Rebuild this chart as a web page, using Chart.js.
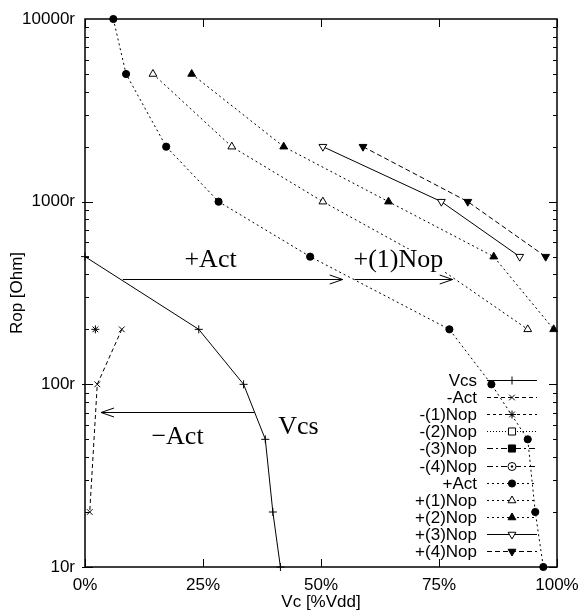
<!DOCTYPE html>
<html><head><meta charset="utf-8">
<script src="https://cdn.jsdelivr.net/npm/chart.js@4"></script>
<style>html,body{margin:0;padding:0;background:#fff}#wrap{width:579px;height:611px;position:relative}</style>
</head><body><div id="wrap"><canvas id="c" width="579" height="611"></canvas></div>
<script>
// ---- data ----
const seriesNames = ['Vcs','-Act','-(1)Nop','-(2)Nop','-(3)Nop','-(4)Nop','+Act','+(1)Nop','+(2)Nop','+(3)Nop','+(4)Nop'];
const vcsX = [0, 24.1, 33.6, 38.2, 39.8, 41.4];
const vcsY = [500, 200, 100, 50, 20, 10];
const actMinusX = [7.8, 2.6, 1.0];
const actMinusY = [200, 100, 20];
const nop1MinusX = [2.2];
const nop1MinusY = [200];
const nop2MinusX = [];
const nop2MinusY = [];
const nop3MinusX = [];
const nop3MinusY = [];
const nop4MinusX = [];
const nop4MinusY = [];
const actPlusX = [6.0, 8.7, 17.2, 28.3, 47.7, 77.2, 86.1, 93.8, 95.4, 97.1];
const actPlusY = [10000, 5000, 2000, 1000, 500, 200, 100, 50, 20, 10];
const nop1PlusX = [14.4, 31.1, 50.4, 71.5, 93.8];
const nop1PlusY = [5000, 2000, 1000, 500, 200];
const nop2PlusX = [22.6, 42.1, 64.3, 86.6, 99.3];
const nop2PlusY = [5000, 2000, 1000, 500, 200];
const nop3PlusX = [50.4, 75.5, 92.1];
const nop3PlusY = [2000, 1000, 500];
const nop4PlusX = [58.9, 81.1, 97.6];
const nop4PlusY = [2000, 1000, 500];
const xTickValues = [0, 25, 50, 75, 100];
const xTickLabels = ['0%', '25%', '50%', '75%', '100%'];
const yTickValues = [10, 100, 1000, 10000];
const yTickLabels = ['10r', '100r', '1000r', '10000r'];
const xTitle = 'Vc [%Vdd]';
const yTitle = 'Rop [Ohm]';
// annotations: arrows and labels in data coordinates
const arrowList = [
  {x1: 8.0, x2: 54.6, y: 377},
  {x1: 57.1, x2: 77.9, y: 377},
  {x1: 35.9, x2: 3.4, y: 71}
];
const labelList = [
  {text: '+Act', x: 26.6, y: 438},
  {text: '+(1)Nop', x: 66.4, y: 438},
  {text: '\u2212Act', x: 19.6, y: 47.3},
  {text: 'Vcs', x: 45.2, y: 53.6}
];

// ---- styles ----
const xs = [vcsX, actMinusX, nop1MinusX, nop2MinusX, nop3MinusX, nop4MinusX, actPlusX, nop1PlusX, nop2PlusX, nop3PlusX, nop4PlusX];
const ys = [vcsY, actMinusY, nop1MinusY, nop2MinusY, nop3MinusY, nop4MinusY, actPlusY, nop1PlusY, nop2PlusY, nop3PlusY, nop4PlusY];
const styles = [
  {dash: [], pt: 'cross', r: 4, fill: false, rot: 0},
  {dash: [4,3], pt: 'crossRot', r: 4, fill: false, rot: 0},
  {dash: [3,3], pt: 'star', r: 4, fill: false, rot: 0},
  {dash: [1,2], pt: 'rect', r: 5, fill: false, rot: 0},
  {dash: [6,3,2,3], pt: 'rect', r: 5, fill: true, rot: 0},
  {dash: [6,3,2,3], pt: 'circle', r: 4, fill: false, rot: 0, dot: true},
  {dash: [2,3], pt: 'circle', r: 3.6, fill: true, rot: 0},
  {dash: [2,3], pt: 'triangle', r: 4.5, fill: false, rot: 0},
  {dash: [2,3], pt: 'triangle', r: 4.5, fill: true, rot: 0},
  {dash: [], pt: 'triangle', r: 4.5, fill: false, rot: 180},
  {dash: [5,3], pt: 'triangle', r: 4.5, fill: true, rot: 180}
];

const datasets = seriesNames.map((name, i) => ({
  label: name,
  data: xs[i].map((x, j) => ({x: x, y: ys[i][j]})),
  showLine: true,
  borderColor: '#000',
  borderWidth: 1,
  borderDash: styles[i].dash,
  pointStyle: styles[i].pt,
  pointRadius: styles[i].r,
  pointRotation: styles[i].rot,
  pointBorderColor: '#000',
  pointBorderWidth: 1,
  pointBackgroundColor: styles[i].fill ? '#000' : '#fff',
  tension: 0,
  clip: false
}));

const SANS = '"Liberation Sans", Arial, sans-serif';
const SERIF = '"Liberation Serif", "Times New Roman", serif';

function seg(ctx, x1, y1, x2, y2) { ctx.beginPath(); ctx.moveTo(x1, y1); ctx.lineTo(x2, y2); ctx.stroke(); }

const decor = {
  id: 'decor',
  afterDatasetsDraw(chart) {
    const {ctx, chartArea: a, scales: {x, y}} = chart;
    ctx.save();
    ctx.strokeStyle = '#000';
    ctx.setLineDash([]);
    // tick marks (inward)
    ctx.lineWidth = 1;
    for (let d = 10; d < 10000; d *= 10) {
      for (let k = 1; k < 10; k++) {
        const py = Math.round(y.getPixelForValue(d * k)) + 0.5;
        const major = k === 1;
        const L = major ? 8 : 4;
        seg(ctx, a.left - (major ? 3 : 0), py, a.left + L, py);
        seg(ctx, a.right - L, py, a.right, py);
      }
    }
    xTickValues.forEach(v => {
      const px = Math.round(x.getPixelForValue(v)) + 0.5;
      seg(ctx, px, a.bottom, px, a.bottom - 8);
      seg(ctx, px, a.top, px, a.top + 8);
    });
    // frame
    ctx.lineWidth = 1.5;
    ctx.strokeRect(a.left, a.top, a.right - a.left, a.bottom - a.top);
    // arrows
    ctx.lineWidth = 1;
    arrowList.forEach(ar => {
      const x1 = x.getPixelForValue(ar.x1), x2 = x.getPixelForValue(ar.x2);
      const py = Math.round(y.getPixelForValue(ar.y)) + 0.5;
      seg(ctx, x1, py, x2, py);
      const dir = x2 > x1 ? 1 : -1;
      ctx.beginPath();
      ctx.moveTo(x2 - dir * 13, py - 4.5);
      ctx.lineTo(x2, py);
      ctx.lineTo(x2 - dir * 13, py + 4.5);
      ctx.stroke();
    });
    // labels (opaque)
    ctx.font = '26px ' + SERIF;
    ctx.textAlign = 'center';
    ctx.textBaseline = 'alphabetic';
    labelList.forEach(lb => {
      const px = x.getPixelForValue(lb.x), py = y.getPixelForValue(lb.y);
      const m = ctx.measureText(lb.text);
      ctx.fillStyle = '#fff';
      ctx.fillRect(px - m.width / 2, py - m.actualBoundingBoxAscent, m.width, m.actualBoundingBoxAscent + m.actualBoundingBoxDescent);
      ctx.fillStyle = '#000';
      ctx.fillText(lb.text, px, py);
    });
    // axis titles
    ctx.font = '17px ' + SANS;
    ctx.fillStyle = '#000';
    ctx.textBaseline = 'middle';
    ctx.fillText(xTitle, (a.left + a.right) / 2, 602);
    ctx.save();
    ctx.translate(17, (a.top + a.bottom) / 2);
    ctx.rotate(-Math.PI / 2);
    ctx.fillText(yTitle, 0, 0);
    ctx.restore();
    ctx.restore();
  },
  afterDraw(chart) {
    const {ctx, chartArea: a} = chart;
    const n = chart.data.datasets.length;
    ctx.save();
    ctx.font = '17px ' + SANS;
    ctx.textAlign = 'right';
    ctx.textBaseline = 'middle';
    chart.data.datasets.forEach((ds, i) => {
      const ry = Math.round(a.bottom - 16 - (n - 1 - i) * 17.1) + 0.5;
      ctx.fillStyle = '#000';
      ctx.fillText(ds.label, a.right - 80, ry + 1);
      ctx.strokeStyle = '#000';
      ctx.lineWidth = 1;
      ctx.setLineDash(ds.borderDash);
      seg(ctx, a.right - 70, ry, a.right - 20, ry);
      ctx.setLineDash([]);
      const mx = a.right - 45;
      ctx.fillStyle = ds.pointBackgroundColor;
      Chart.helpers.drawPoint(ctx, {pointStyle: ds.pointStyle, rotation: ds.pointRotation, radius: ds.pointRadius, borderWidth: 1}, mx, ry);
      if (styles[i].dot) { ctx.fillStyle = '#000'; ctx.beginPath(); ctx.arc(mx, ry, 1.2, 0, Math.PI * 2); ctx.fill(); }
    });
    ctx.restore();
  }
};

new Chart(document.getElementById('c'), {
  type: 'scatter',
  data: {datasets: datasets},
  options: {
    responsive: false,
    animation: false,
    devicePixelRatio: 1,
    layout: {padding: {left: 0, right: 22, top: 19, bottom: 0}},
    plugins: {legend: {display: false}, tooltip: {enabled: false}},
    scales: {
      x: {
        type: 'linear', min: 0, max: 100,
        afterBuildTicks: s => { s.ticks = xTickValues.map(v => ({value: v})); },
        afterFit: s => { s.height = 44; s.paddingLeft = 0; s.paddingRight = 0; },
        grid: {display: false, drawTicks: false},
        border: {display: false},
        ticks: {color: '#000', font: {family: SANS, size: 17}, padding: 8,
          maxRotation: 0, autoSkip: false,
          callback: (v) => xTickLabels[xTickValues.indexOf(v)]}
      },
      y: {
        type: 'logarithmic', min: 10, max: 10000,
        afterBuildTicks: s => { s.ticks = yTickValues.map(v => ({value: v})); },
        afterFit: s => { s.width = 85; s.paddingTop = 0; s.paddingBottom = 0; },
        grid: {display: false, drawTicks: false},
        border: {display: false},
        ticks: {color: '#000', font: {family: SANS, size: 17}, padding: 10, autoSkip: false,
          callback: (v) => yTickLabels[yTickValues.indexOf(v)]}
      }
    }
  },
  plugins: [decor]
});
</script>
</body></html>
